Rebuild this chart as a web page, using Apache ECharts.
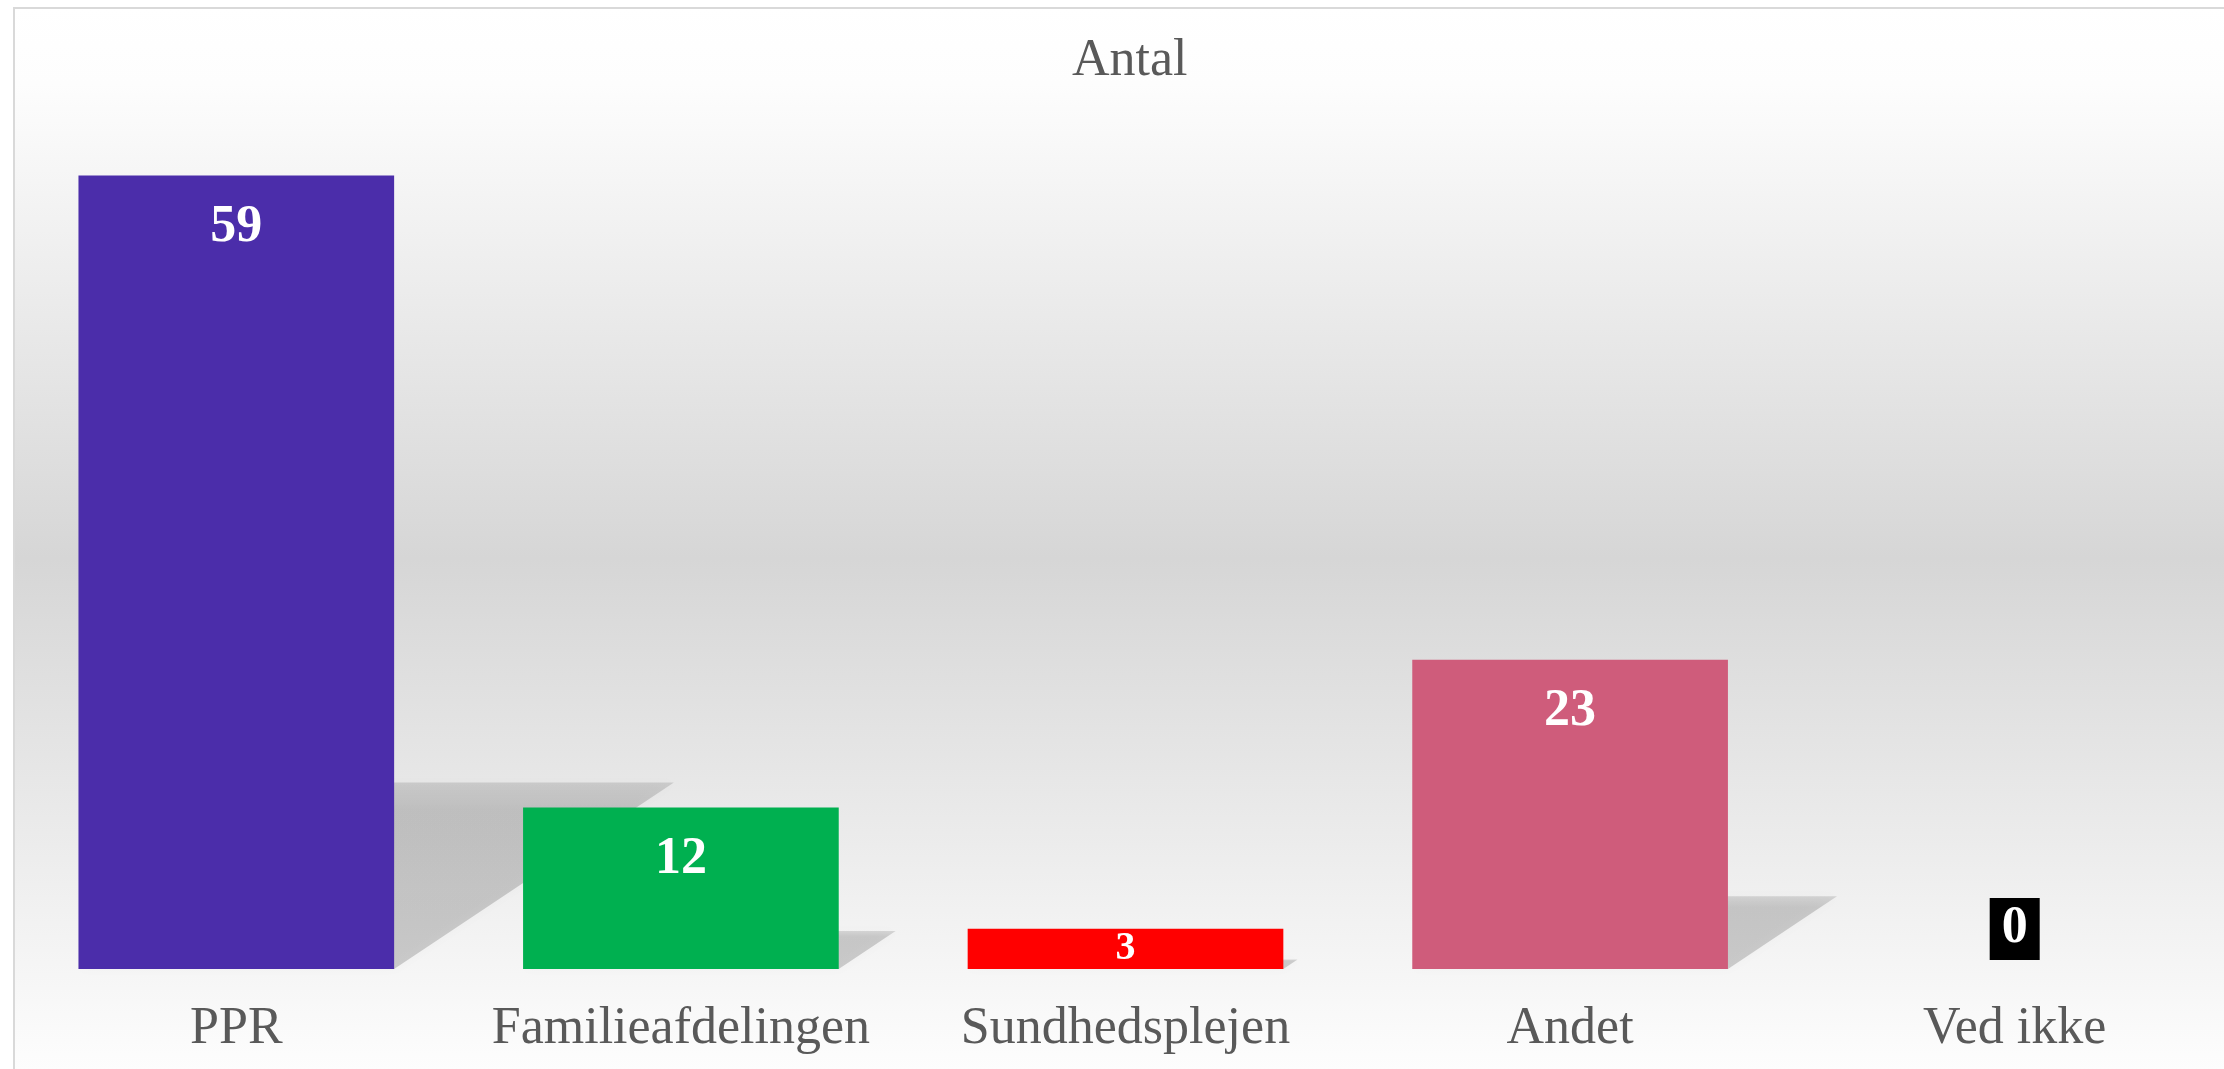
<!DOCTYPE html>
<html>
<head>
<meta charset="utf-8">
<script src="https://cdn.jsdelivr.net/npm/echarts@6/dist/echarts.min.js"></script>
<style>
html, body { margin: 0; padding: 0; background: #fff; }
#chart { width: 2224px; height: 1069px; }
</style>
</head>
<body>
<div id="chart"></div>
<script>
// data
var categories = ['PPR', 'Familieafdelingen', 'Sundhedsplejen', 'Andet', 'Ved ikke'];
var counts = [59, 12, 3, 23, 0];
var barColors = ['#4B2DAA', '#00B050', '#FF0000', '#CF5C7B', '#000000'];
var chartTitle = 'Antal';

var serif = '"Liberation Serif", "Times New Roman", serif';

var myChart = echarts.init(document.getElementById('chart'));

var barData = counts.map(function (v, i) {
    var item = { value: v, itemStyle: { color: barColors[i] } };
    if (v === 0) {
        // empty bar: label gets the bar colour as a box
        item.label = {
            position: 'top',
            distance: 9,
            backgroundColor: barColors[i],
            padding: [11, 12]
        };
    } else if (v < 5) {
        // too short for the label at the top, keep it inside
        item.label = { position: 'inside', fontSize: 40, lineHeight: 34 };
    }
    return item;
});

var option = {
    backgroundColor: '#ffffff',
    animation: false,
    graphic: [{
        type: 'rect',
        z: -10,
        silent: true,
        shape: { x: 14, y: 8, width: 2260, height: 1100 },
        style: {
            fill: new echarts.graphic.LinearGradient(0, 0, 0, 1, [
                { offset: 0, color: '#ffffff' },
                { offset: 0.07, color: '#fdfdfd' },
                { offset: 0.5, color: '#d6d6d6' },
                { offset: 0.95, color: '#fcfcfc' },
                { offset: 1, color: '#ffffff' }
            ]),
            stroke: '#d9d9d9',
            lineWidth: 2
        }
    }],
    title: {
        text: chartTitle,
        left: 1067,
        top: 30,
        textStyle: {
            fontFamily: serif,
            fontSize: 52,
            fontWeight: 'normal',
            color: '#595959'
        }
    },
    grid: {
        left: 14,
        width: 2223,
        top: 162,
        bottom: 100,
        outerBoundsMode: 'none'
    },
    xAxis: {
        type: 'category',
        data: categories,
        axisLine: { show: false },
        axisTick: { show: false },
        axisLabel: {
            margin: 34,
            interval: 0,
            fontFamily: serif,
            fontSize: 52,
            color: '#595959'
        }
    },
    yAxis: {
        type: 'value',
        min: 0,
        max: 60,
        show: false,
        splitLine: { show: false }
    },
    series: [{
        // perspective shadow behind each bar
        type: 'custom',
        z: 1,
        silent: true,
        data: counts.map(function (v, i) { return [i, v]; }),
        renderItem: function (params, api) {
            var v = api.value(1);
            if (!(v > 0)) return null;
            var base = api.coord([api.value(0), 0]);
            var top = api.coord([api.value(0), v]);
            var barW = api.size([1, 0])[0] * 0.71;
            var x0 = base[0] - barW / 2;
            var x1 = base[0] + barW / 2;
            var h = (base[1] - top[1]) * 0.235;
            var shift = h * 1.5;
            return {
                type: 'polygon',
                shape: {
                    points: [
                        [x0, base[1]],
                        [x1, base[1]],
                        [x1 + shift, base[1] - h],
                        [x0 + shift, base[1] - h]
                    ]
                },
                style: {
                    fill: new echarts.graphic.LinearGradient(0, 0, 0, 1, [
                        { offset: 0, color: 'rgba(0,0,0,0.12)' },
                        { offset: 0.15, color: 'rgba(0,0,0,0.17)' },
                        { offset: 1, color: 'rgba(0,0,0,0.17)' }
                    ]),
                    shadowBlur: 10,
                    shadowColor: 'rgba(0,0,0,0.12)'
                }
            };
        }
    }, {
        type: 'bar',
        z: 2,
        data: barData,
        barWidth: '71%',
        label: {
            show: true,
            position: 'insideTop',
            distance: 32,
            fontFamily: serif,
            fontSize: 52,
            lineHeight: 40,
            fontWeight: 'bold',
            color: '#ffffff'
        }
    }]
};

myChart.setOption(option);
</script>
</body>
</html>
